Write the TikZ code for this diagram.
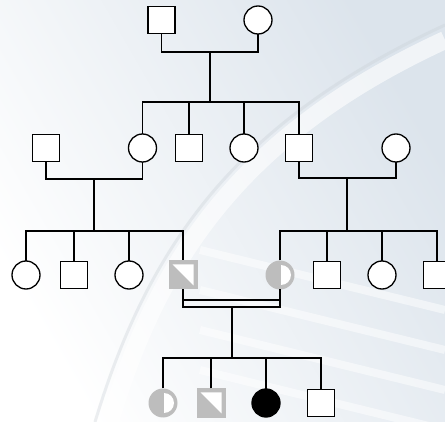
\documentclass[tikz,border=0pt]{standalone}
\begin{document}
\begin{tikzpicture}[x=1pt,y=-1pt,
  line width=1.3pt,
  sq/.style={draw=black, fill=white, minimum size=27pt, inner sep=0pt, outer sep=0pt},
  ci/.style={circle, draw=black, fill=white, minimum size=28pt, inner sep=0pt, outer sep=0pt},
  aff/.style={circle, draw=black, fill=black, minimum size=28pt, inner sep=0pt, outer sep=0pt},
  grsq/.style={fill=carrier, minimum size=29pt, inner sep=0pt, outer sep=0pt,
    path picture={\fill[white] ([shift={(4pt,-4pt)}]path picture bounding box.north west)
       -- ([shift={(-4pt,-4pt)}]path picture bounding box.north east)
       -- ([shift={(-4pt,4pt)}]path picture bounding box.south east) -- cycle;}},
  grci/.style={circle, fill=carrier, minimum size=29pt, inner sep=0pt, outer sep=0pt,
    path picture={\fill[white] ([shift={(1pt,10pt)}]path picture bounding box.center)
       arc[start angle=90, end angle=-90, radius=10pt] -- cycle;}},
  link/.style={draw=black, line width=1.3pt}
]
\definecolor{carrier}{HTML}{BDBDBD}
\definecolor{bgblue}{HTML}{DCE4EC}
% background
\shade[left color=white, right color=bgblue, shading angle=120] (0,0) rectangle (445,422);
\useasboundingbox (0,0) rectangle (445,422);
\draw[white, line width=18pt, opacity=0.6] (110,422) .. controls (160,250) and (250,130) .. (445,40);
\draw[bgblue!80!gray, line width=3pt, opacity=0.35] (95,422) .. controls (150,240) and (240,120) .. (445,25);
\foreach \yy in {250,290,330,370}{
  \draw[white, line width=8pt, opacity=0.5] (200,\yy) -- (445,\yy+60);
}

% Generation I
\node[sq] (I1) at (161.5,20) {};
\node[ci] (I2) at (258,20) {};
\coordinate (m1) at (210,52);
\coordinate (s2) at (210,102);

% Generation II
\node[sq] (II1) at (46,148) {};
\node[ci] (II2) at (142.5,148) {};
\node[sq] (II3) at (189,148) {};
\node[ci] (II4) at (244,148) {};
\node[sq] (II5) at (299,148) {};
\node[ci] (II6) at (396,148) {};
\coordinate (m2) at (94,179);
\coordinate (s3a) at (94,231);
\coordinate (m3) at (347,178);
\coordinate (s3b) at (347,231);

% Generation III
\node[ci] (III1) at (26,275) {};
\node[sq] (III2) at (74,275) {};
\node[ci] (III3) at (129,275) {};
\node[grsq] (III4) at (183,275) {};
\node[grci] (III5) at (280,275) {};
\node[sq] (III6) at (327,275) {};
\node[ci] (III7) at (382,275) {};
\node[sq] (III8) at (437,275) {};
\coordinate (m4) at (232,307);
\coordinate (s4) at (232,358);

% Generation IV
\node[grci] (IV1) at (163,403) {};
\node[grsq] (IV2) at (211,403) {};
\node[aff] (IV3) at (266,403) {};
\node[sq] (IV4) at (321,403) {};

% connectors
\draw[link] (I1.south) |- (m1) -| (I2.south);
\draw[link] (m1) -- (s2);
\draw[link] (II2.north) |- (s2) -| (II5.north);
\draw[link] (II3.north) -- (II3.north |- s2);
\draw[link] (II4.north) -- (II4.north |- s2);

\draw[link] (II1.south) |- (m2) -| (II2.south);
\draw[link] (m2) -- (s3a);
\draw[link] (III1.north) |- (s3a) -| (III4.north);
\draw[link] (III2.north) -- (III2.north |- s3a);
\draw[link] (III3.north) -- (III3.north |- s3a);

\draw[link] (II5.south) |- (m3) -| (II6.south);
\draw[link] (m3) -- (s3b);
\draw[link] (III5.north) |- (s3b) -| (III8.north);
\draw[link] (III6.north) -- (III6.north |- s3b);
\draw[link] (III7.north) -- (III7.north |- s3b);

\draw[link] (III4.south) |- (m4) -| (III5.south);
\draw[link] (III4.south |- 0,300) -- (III5.south |- 0,300);
\draw[link] (m4) -- (s4);
\draw[link] (IV1.north) |- (s4) -| (IV4.north);
\draw[link] (IV2.north) -- (IV2.north |- s4);
\draw[link] (IV3.north) -- (IV3.north |- s4);
\end{tikzpicture}
\end{document}
